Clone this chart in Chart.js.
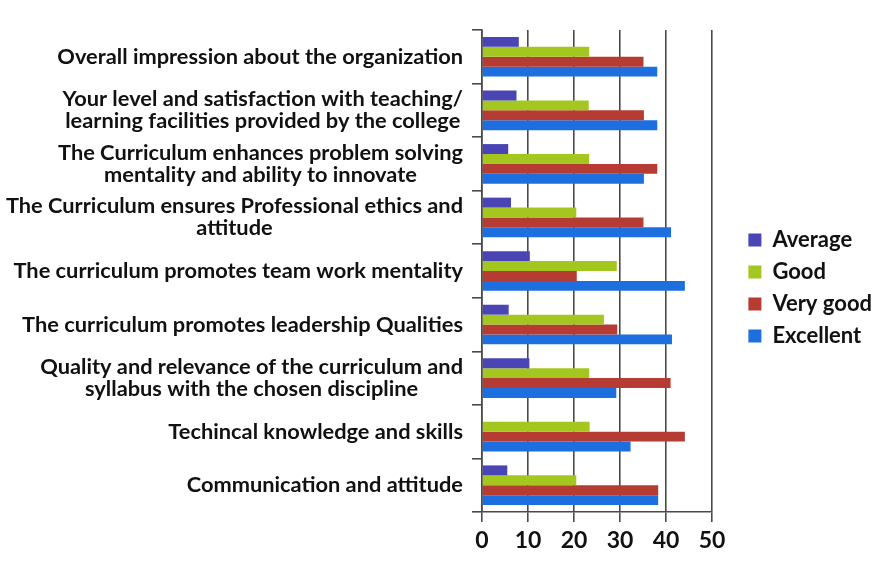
<!DOCTYPE html>
<html><head><meta charset="utf-8">
<script src="https://cdn.jsdelivr.net/npm/chart.js@4"></script>
<style>html,body{margin:0;padding:0;background:#fff}#wrap{width:886px;height:564px;position:relative}</style>
</head><body><div id="wrap"><canvas id="c"></canvas></div>
<script>
const categories = [
  "Overall impression about the organization",
  ["Your level and satisfaction with teaching/", "learning facilities provided by the college"],
  ["The Curriculum enhances problem solving", "mentality and ability to innovate"],
  ["The Curriculum ensures Professional ethics and", "attitude"],
  "The curriculum promotes team work mentality",
  "The curriculum promotes leadership Qualities",
  ["Quality and relevance of the curriculum and", "syllabus with the chosen discipline"],
  "Techincal knowledge and skills",
  "Communication and attitude"
];
const seriesNames = ["Average", "Good", "Very good", "Excellent"];
const average   = [8, 7.5, 5.7, 6.3, 10.4, 5.8, 10.3, 0, 5.5];
const good      = [23.3, 23.2, 23.3, 20.5, 29.3, 26.5, 23.3, 23.4, 20.5];
const veryGood  = [35.1, 35.2, 38.1, 35.1, 20.6, 29.4, 41, 44.1, 38.3];
const excellent = [38.1, 38.1, 35.2, 41.1, 44.1, 41.3, 29.2, 32.3, 38.3];
const xTicks = [0, 10, 20, 30, 40, 50];

const FONT = 'Lato, "Open Sans", sans-serif';
const LBL_SIZE = 21.8;
const LINE_H = 22;
const GRID = '#4a4a4a';

const yLabelPlugin = {
  id: 'yLabels',
  afterDraw(chart) {
    const s = chart.scales.y, ctx = chart.ctx;
    ctx.save();
    ctx.font = `bold ${LBL_SIZE}px ${FONT}`;
    ctx.fillStyle = '#111';
    ctx.textAlign = 'center';
    ctx.textBaseline = 'middle';
    const right = s.right - 19;
    categories.forEach((lab, i) => {
      const lines = Array.isArray(lab) ? lab : [lab];
      const w = Math.max(...lines.map(l => ctx.measureText(l).width));
      const cx = right - w / 2;
      const y = s.getPixelForTick(i);
      lines.forEach((l, j) => ctx.fillText(l, cx, y + (j - (lines.length - 1) / 2) * LINE_H));
    });
    ctx.restore();
  }
};

const colors = ['#4a44b4', '#a3c71f', '#b63c33', '#1d6fe0'];
const values = [average, good, veryGood, excellent];

new Chart(document.getElementById('c'), {
  type: 'bar',
  data: {
    labels: categories,
    datasets: seriesNames.map((n, k) => ({
      label: n, data: values[k], backgroundColor: colors[k], borderWidth: 0,
      categoryPercentage: 0.74, barPercentage: 1.0
    }))
  },
  options: {
    indexAxis: 'y',
    responsive: true,
    maintainAspectRatio: false,
    animation: false,
    layout: { padding: { top: 12, bottom: 0, left: 0, right: 4 } },
    plugins: {
      tooltip: { enabled: false },
      legend: {
        position: 'right',
        labels: {
          font: { family: FONT, size: 22, weight: 'bold' },
          color: '#111', boxWidth: 13, boxHeight: 13, padding: 10
        }
      }
    },
    scales: {
      x: {
        min: 0, max: 50,
        afterBuildTicks: s => { s.ticks = xTicks.map(v => ({ value: v })); },
        ticks: { font: { family: FONT, size: 23, weight: 'bold' }, color: '#111', padding: 5 },
        grid: { color: GRID, lineWidth: 1.6, tickLength: 10 },
        border: { color: GRID, width: 1.6 },
        afterFit: s => { s.height = 52; }
      },
      topGap: {
        type: 'linear', position: 'top', display: true,
        ticks: { display: false }, grid: { display: false }, border: { display: false },
        afterFit: s => { s.height = 18; }
      },
      y: {
        ticks: { display: false },
        grid: { drawOnChartArea: false, color: GRID, lineWidth: 1.6, tickLength: 10 },
        border: { color: GRID, width: 1.6 },
        afterFit: s => { s.width = 482; }
      },
      gap: {
        type: 'linear', position: 'right', display: true,
        ticks: { display: false }, grid: { display: false }, border: { display: false },
        afterFit: s => { s.width = 886 - 4 - s.chart.legend.width - 712; }
      }
    }
  },
  plugins: [yLabelPlugin]
});
</script>
</body></html>
